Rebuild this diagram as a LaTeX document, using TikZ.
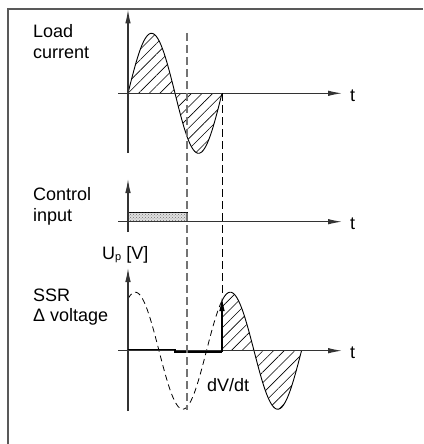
\documentclass[tikz,border=0pt]{standalone}
\usepackage{fontspec}
\setmainfont{Liberation Sans}
\usetikzlibrary{arrows.meta,patterns,patterns.meta}
\begin{document}
\begin{tikzpicture}[x=1pt,y=-1pt,
  axis/.style={line width=1.1pt, draw=black!80, -{Latex[length=14pt,width=5.5pt]}},
  lbl/.style={anchor=base west, inner sep=0pt, font=\fontsize{18}{21}\selectfont},
  hatch/.style={pattern={Lines[angle=45,distance=7.5pt,line width=0.6pt]}},
  curve/.style={line width=0.9pt, black},
  guide/.style={line width=1.1pt, dash pattern=on 8pt off 4pt},
]
\useasboundingbox (0,0) rectangle (423,444);
% frame
\draw[line width=1.2pt, black!65] (8,444) -- (8,9) -- (423,9);

% ---------- Load current ----------
\coordinate (a1b) at (128,153);
\coordinate (a1t) at (128,9.5);
\coordinate (h1l) at (118,93.3);
\coordinate (h1r) at (342,93.3);
\fill[hatch] plot[domain=128:222,samples=80] (\x,{93.3-60*sin((\x-128)*3.82979)}) -- cycle;
\draw[curve] plot[domain=128:222,samples=80] (\x,{93.3-60*sin((\x-128)*3.82979)});
\draw[axis] (a1b) -- (a1t);
\draw[axis] (h1l) -- (h1r);

% ---------- Control input ----------
\coordinate (a2b) at (128,232);
\coordinate (a2t) at (128,179);
\coordinate (h2l) at (118,221.7);
\coordinate (h2r) at (342,221.7);
\filldraw[line width=0.9pt, fill=black!12, postaction={pattern=crosshatch dots, pattern color=black!55}] (128,212.7) rectangle (187,221.7);
\draw[axis] (a2b) -- (a2t);
\draw[axis] (h2l) -- (h2r);

% ---------- SSR voltage ----------
\coordinate (a3b) at (128,411);
\coordinate (a3t) at (128,268);
\coordinate (h3l) at (118,350.7);
\coordinate (h3r) at (342,350.7);
\fill[hatch] (222,350.7) -- plot[domain=222:301.5,samples=80] (\x,{350.7-58.5*sin((\x-111.5)*3.78947)}) -- cycle;
\draw[curve] plot[domain=222:301.5,samples=80] (\x,{350.7-58.5*sin((\x-111.5)*3.78947)});
\draw[line width=0.8pt, dash pattern=on 6pt off 4pt] plot[domain=128:222,samples=80] (\x,{350.7-58.5*sin((\x-111.5)*3.78947)});
\draw[axis] (a3b) -- (a3t);
\draw[axis] (h3l) -- (h3r);
% on-state voltage and step
\coordinate (s0) at (128,349.3);
\coordinate (s1) at (175,349.3);
\coordinate (s2) at (175,352);
\coordinate (s3) at (222,352);
\coordinate (s4) at (222,297);
\draw[line width=1.3pt] (s0) -- (s1);
\draw[line width=1.6pt] (s1) -- (s2) -- (s3);
\draw[line width=1.2pt, -{Latex[length=14pt,width=5.5pt]}] (s3) -- (s4);

% guide lines
\coordinate (g1t) at (187,33);
\coordinate (g1b) at (187,410);
\coordinate (g2t) at (222,93.3);
\draw[guide, black!55] (g1t) -- (g1b);
\draw[line width=0.9pt, dash pattern=on 8pt off 4pt] (g2t) -- (s4);

% labels
\node[lbl] (load) at (33,37.3) {Load};
\node[lbl] (cur) at (33,58.3) {current};
\node[lbl] (ctl) at (33,200) {Control};
\node[lbl] (inp) at (33,221) {input};
\node[lbl] (ssr) at (33,301) {SSR};
\node[lbl] (dv) at (33,321) {Δ voltage};
\node[lbl] (up) at (102,259) {U\raisebox{-1.5pt}{\fontsize{11}{11}\selectfont p} [V]};
\node[lbl] (dvdt) at (207,391.7) {dV/dt};
\node[lbl] (t1) at (350,101.5) {t};
\node[lbl] (t2) at (350,229) {t};
\node[lbl] (t3) at (350,358) {t};
\end{tikzpicture}
\end{document}
